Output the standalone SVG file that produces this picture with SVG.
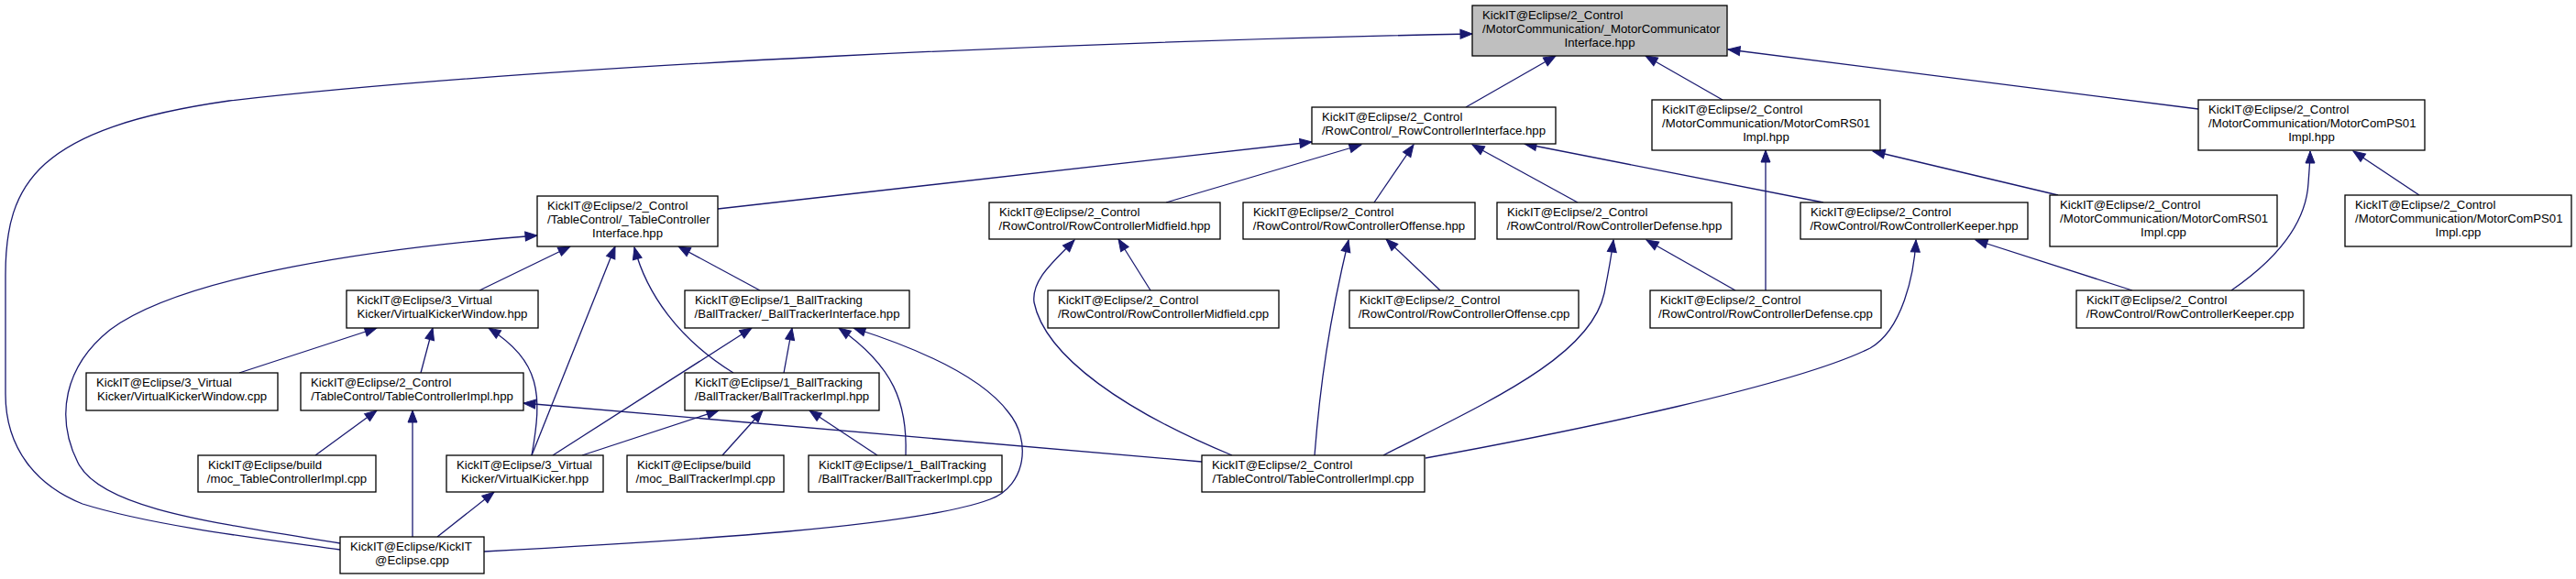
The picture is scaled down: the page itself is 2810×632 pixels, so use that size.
<svg xmlns="http://www.w3.org/2000/svg" width="2810" height="632" viewBox="0 0 2810 632">
<style>
.n rect{fill:#fff;stroke:#000;stroke-width:1.3}
.n.root rect{fill:#bfbfbf}
.n text{font-family:"Liberation Sans",Arial,sans-serif;font-size:13.2px;fill:#000}
.n text.c{text-anchor:middle}
.e path{fill:none;stroke:#191970;stroke-width:1.3;marker-end:url(#a)}
</style>
<defs>
<marker id="a" markerUnits="userSpaceOnUse" markerWidth="16" markerHeight="12" refX="13" refY="5" orient="auto" overflow="visible">
<path d="M0,0 L13,5 L0,10 z" fill="#191970" stroke="#191970" stroke-width="1"/>
</marker>
</defs>
<rect width="2810" height="632" fill="#fff"/>
<g id="edges" class="e">
<path d="M1599,117 L1697,61"/>
<path d="M1879,109 L1795,61"/>
<path d="M2398,119 L1885,54"/>
<path d="M371,600 C300,590 170,575 90,550 C40,530 6,490 6,430 L6,300 C6,200 40,140 250,110 C600,70 1200,45 1606,37"/>
<path d="M783,228 L1431,155"/>
<path d="M1272,221 L1485,158"/>
<path d="M1499,221 L1542,158"/>
<path d="M1721,221 L1606,158"/>
<path d="M1989,221 L1663,157"/>
<path d="M1926,317 L1926,164"/>
<path d="M2245,213 L2043,165"/>
<path d="M2434,317 C2495,275 2516,235 2518,200 C2519,185 2520,175 2520,165"/>
<path d="M2639,213 L2567,165"/>
<path d="M523,317 L622,269"/>
<path d="M580,497 L671,269"/>
<path d="M800,407 C740,370 705,320 692,270"/>
<path d="M829,317 L740,269"/>
<path d="M371,593 C230,570 110,555 85,505 C60,455 70,400 120,360 C200,300 420,270 586,257"/>
<path d="M1255,317 L1220,261"/>
<path d="M1344,497 C1230,450 1140,390 1128,330 C1125,305 1150,285 1172,262"/>
<path d="M1571,317 L1512,261"/>
<path d="M1434,497 C1440,420 1450,350 1471,262"/>
<path d="M1893,317 L1796,262"/>
<path d="M1509,497 C1620,440 1735,390 1750,320 C1754,300 1757,285 1760,262"/>
<path d="M2326,317 L2155,262"/>
<path d="M1555,500 C1720,470 1960,420 2040,380 C2075,360 2088,300 2090,262"/>
<path d="M261,407 L411,358"/>
<path d="M459,407 L472,358"/>
<path d="M580,497 C592,430 590,395 533,358"/>
<path d="M603,497 L820,358"/>
<path d="M855,407 L864,358"/>
<path d="M988,497 C990,440 975,400 915,358"/>
<path d="M528,602 C750,590 1000,575 1080,545 C1120,530 1125,480 1100,450 C1070,410 1000,380 931,358"/>
<path d="M635,497 L784,448"/>
<path d="M788,497 L832,448"/>
<path d="M957,497 L883,448"/>
<path d="M1311,504 L571,440"/>
<path d="M344,497 L411,448"/>
<path d="M450,586 L450,448"/>
<path d="M477,586 L539,537"/>
</g>
<g id="n0" class="n root"><rect x="1606" y="6" width="278" height="55"/><text x="1617" y="21">KickIT@Eclipse/2_Control</text><text x="1617" y="36">/MotorCommunication/_MotorCommunicator</text><text class="c" x="1745" y="51">Interface.hpp</text></g>
<g id="n1" class="n"><rect x="1431" y="117" width="266" height="40"/><text x="1442" y="132">KickIT@Eclipse/2_Control</text><text class="c" x="1564" y="147">/RowControl/_RowControllerInterface.hpp</text></g>
<g id="n2" class="n"><rect x="1802" y="109" width="249" height="55"/><text x="1813" y="124">KickIT@Eclipse/2_Control</text><text x="1813" y="139">/MotorCommunication/MotorComRS01</text><text class="c" x="1926.5" y="154">Impl.hpp</text></g>
<g id="n3" class="n"><rect x="2398" y="109" width="247" height="55"/><text x="2409" y="124">KickIT@Eclipse/2_Control</text><text x="2409" y="139">/MotorCommunication/MotorComPS01</text><text class="c" x="2521.5" y="154">Impl.hpp</text></g>
<g id="n4" class="n"><rect x="586" y="214" width="197" height="55"/><text x="597" y="229">KickIT@Eclipse/2_Control</text><text x="597" y="244">/TableControl/_TableController</text><text class="c" x="684.5" y="259">Interface.hpp</text></g>
<g id="n5" class="n"><rect x="1079" y="221" width="252" height="40"/><text x="1090" y="236">KickIT@Eclipse/2_Control</text><text class="c" x="1205" y="251">/RowControl/RowControllerMidfield.hpp</text></g>
<g id="n6" class="n"><rect x="1356" y="221" width="253" height="40"/><text x="1367" y="236">KickIT@Eclipse/2_Control</text><text class="c" x="1482.5" y="251">/RowControl/RowControllerOffense.hpp</text></g>
<g id="n7" class="n"><rect x="1633" y="221" width="256" height="40"/><text x="1644" y="236">KickIT@Eclipse/2_Control</text><text class="c" x="1761" y="251">/RowControl/RowControllerDefense.hpp</text></g>
<g id="n8" class="n"><rect x="1964" y="221" width="248" height="40"/><text x="1975" y="236">KickIT@Eclipse/2_Control</text><text class="c" x="2088" y="251">/RowControl/RowControllerKeeper.hpp</text></g>
<g id="n9" class="n"><rect x="2236" y="213" width="248" height="56"/><text x="2247" y="228">KickIT@Eclipse/2_Control</text><text x="2247" y="243">/MotorCommunication/MotorComRS01</text><text class="c" x="2360" y="258">Impl.cpp</text></g>
<g id="n10" class="n"><rect x="2558" y="213" width="247" height="56"/><text x="2569" y="228">KickIT@Eclipse/2_Control</text><text x="2569" y="243">/MotorCommunication/MotorComPS01</text><text class="c" x="2681.5" y="258">Impl.cpp</text></g>
<g id="n11" class="n"><rect x="378" y="317" width="209" height="41"/><text x="389" y="332">KickIT@Eclipse/3_Virtual</text><text class="c" x="482.5" y="347">Kicker/VirtualKickerWindow.hpp</text></g>
<g id="n12" class="n"><rect x="747" y="317" width="245" height="41"/><text x="758" y="332">KickIT@Eclipse/1_BallTracking</text><text class="c" x="869.5" y="347">/BallTracker/_BallTrackerInterface.hpp</text></g>
<g id="n13" class="n"><rect x="1143" y="317" width="252" height="41"/><text x="1154" y="332">KickIT@Eclipse/2_Control</text><text class="c" x="1269" y="347">/RowControl/RowControllerMidfield.cpp</text></g>
<g id="n14" class="n"><rect x="1472" y="317" width="250" height="41"/><text x="1483" y="332">KickIT@Eclipse/2_Control</text><text class="c" x="1597" y="347">/RowControl/RowControllerOffense.cpp</text></g>
<g id="n15" class="n"><rect x="1800" y="317" width="252" height="41"/><text x="1811" y="332">KickIT@Eclipse/2_Control</text><text class="c" x="1926" y="347">/RowControl/RowControllerDefense.cpp</text></g>
<g id="n16" class="n"><rect x="2265" y="317" width="248" height="41"/><text x="2276" y="332">KickIT@Eclipse/2_Control</text><text class="c" x="2389" y="347">/RowControl/RowControllerKeeper.cpp</text></g>
<g id="n17" class="n"><rect x="94" y="407" width="209" height="41"/><text x="105" y="422">KickIT@Eclipse/3_Virtual</text><text class="c" x="198.5" y="437">Kicker/VirtualKickerWindow.cpp</text></g>
<g id="n18" class="n"><rect x="328" y="407" width="243" height="41"/><text x="339" y="422">KickIT@Eclipse/2_Control</text><text class="c" x="449.5" y="437">/TableControl/TableControllerImpl.hpp</text></g>
<g id="n19" class="n"><rect x="747" y="407" width="212" height="41"/><text x="758" y="422">KickIT@Eclipse/1_BallTracking</text><text class="c" x="853" y="437">/BallTracker/BallTrackerImpl.hpp</text></g>
<g id="n20" class="n"><rect x="216" y="497" width="194" height="40"/><text x="227" y="512">KickIT@Eclipse/build</text><text class="c" x="313" y="527">/moc_TableControllerImpl.cpp</text></g>
<g id="n21" class="n"><rect x="487" y="497" width="171" height="40"/><text x="498" y="512">KickIT@Eclipse/3_Virtual</text><text class="c" x="572.5" y="527">Kicker/VirtualKicker.hpp</text></g>
<g id="n22" class="n"><rect x="684" y="497" width="171" height="40"/><text x="695" y="512">KickIT@Eclipse/build</text><text class="c" x="769.5" y="527">/moc_BallTrackerImpl.cpp</text></g>
<g id="n23" class="n"><rect x="882" y="497" width="211" height="40"/><text x="893" y="512">KickIT@Eclipse/1_BallTracking</text><text class="c" x="987.5" y="527">/BallTracker/BallTrackerImpl.cpp</text></g>
<g id="n24" class="n"><rect x="1311" y="497" width="243" height="40"/><text x="1322" y="512">KickIT@Eclipse/2_Control</text><text class="c" x="1432.5" y="527">/TableControl/TableControllerImpl.cpp</text></g>
<g id="n25" class="n"><rect x="371" y="586" width="157" height="40"/><text x="382" y="601">KickIT@Eclipse/KickIT</text><text class="c" x="449.5" y="616">@Eclipse.cpp</text></g>
</svg>
